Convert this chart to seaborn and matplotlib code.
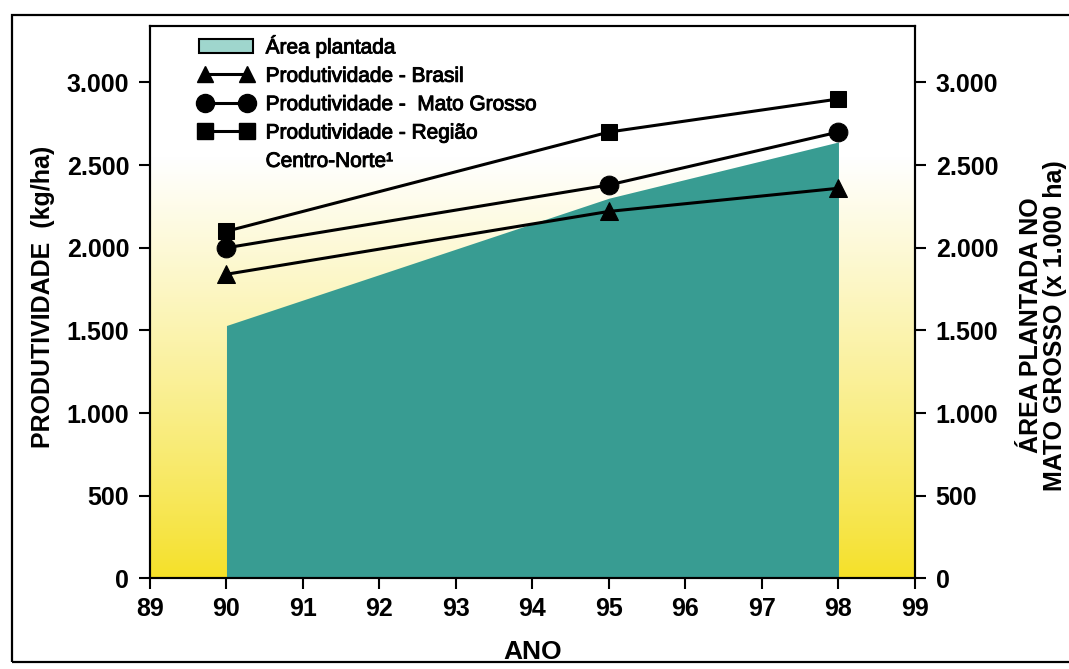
import numpy as np
import pandas as pd
import matplotlib
matplotlib.use("Agg")
import matplotlib.pyplot as plt
import seaborn as sns
from matplotlib.lines import Line2D
from matplotlib.patches import Patch, Rectangle
import matplotlib.patheffects as pe

# ---- data ----
years = [90, 95, 98]
area_plantada = [1530, 2300, 2640]
prod_brasil = [1840, 2220, 2360]
prod_mato_grosso = [2000, 2380, 2700]
prod_regiao = [2100, 2700, 2900]

x_ticks = [89, 90, 91, 92, 93, 94, 95, 96, 97, 98, 99]
y_ticks = [0, 500, 1000, 1500, 2000, 2500, 3000]
y_tick_labels = ["0", "500", "1.000", "1.500", "2.000", "2.500", "3.000"]

legend_labels = ["Área plantada", "Produtividade - Brasil",
                 "Produtividade -  Mato Grosso", "Produtividade - Região",
                 "Centro-Norte¹"]

sns.set_theme(style="white")
plt.rcParams["font.family"] = ["Liberation Sans", "DejaVu Sans"]
plt.rcParams["text.color"] = "black"
plt.rcParams["axes.labelcolor"] = "black"
plt.rcParams["xtick.color"] = "black"
plt.rcParams["ytick.color"] = "black"

fig = plt.figure(figsize=(10.69, 6.69), dpi=100)
fig.patch.set_facecolor("white")
ax = fig.add_axes([0.1403, 0.1353, 0.7156, 0.826])

XMIN, XMAX, YMAX = 89, 99, 3342
ax.set_xlim(XMIN, XMAX)
ax.set_ylim(0, YMAX)

# background gradient (yellow at bottom -> white at top)
n = 300
f = np.linspace(0, 1, n)
t = np.clip(f / 0.76, 0, 1) ** 0.85
yellow = np.array([245, 224, 38]) / 255.0
white = np.array([1.0, 1.0, 1.0])
grad = (yellow[None, :] * (1 - t[:, None]) + white[None, :] * t[:, None])[:, None, :]
ax.imshow(grad, extent=[XMIN, XMAX, 0, YMAX], origin="lower", aspect="auto",
          zorder=0, interpolation="bilinear")

teal = "#389c92"
ax.fill_between(years, 0, area_plantada, color=teal, linewidth=0, zorder=1)

df = pd.DataFrame({"ano": years * 3,
                   "valor": prod_brasil + prod_mato_grosso + prod_regiao,
                   "serie": ["Brasil"] * 3 + ["Mato Grosso"] * 3 + ["Regiao"] * 3})

styles = {"Brasil": ("^", 12.5), "Mato Grosso": ("o", 13.5), "Regiao": ("s", 11.5)}
for name, (mk, ms) in styles.items():
    sub = df[df["serie"] == name]
    sns.lineplot(data=sub, x="ano", y="valor", ax=ax, color="black",
                 marker=mk, markersize=ms, markeredgecolor="black",
                 linewidth=2.2, zorder=3, legend=False, clip_on=False)

ax.set_xlabel("")
ax.set_ylabel("")

ax.set_xticks(x_ticks)
ax.set_xticklabels([str(v) for v in x_ticks])
ax.set_yticks(y_ticks)
ax.set_yticklabels(y_tick_labels)
ax.tick_params(axis="both", which="both", direction="out", length=8, width=1.5,
               color="black", labelcolor="black", labelsize=18, pad=6)
ax.tick_params(axis="x", bottom=True, top=False, pad=5)
ax.tick_params(axis="y", left=True, right=False, pad=7)
for lab in ax.get_xticklabels() + ax.get_yticklabels():
    lab.set_fontweight("bold")

for sp in ax.spines.values():
    sp.set_visible(True)
    sp.set_color("black")
    sp.set_linewidth(1.5)

ax2 = ax.twinx()
ax2.set_ylim(0, YMAX)
ax2.set_yticks(y_ticks)
ax2.set_yticklabels(y_tick_labels)
ax2.tick_params(axis="y", right=True, direction="out", length=8, width=1.5,
                color="black", labelcolor="black", labelsize=18, pad=7)
for lab in ax2.get_yticklabels():
    lab.set_fontweight("bold")
for sp in ax2.spines.values():
    sp.set_linewidth(1.5)
    sp.set_color("black")
ax2.grid(False)
ax.grid(False)

ax.set_xlabel("ANO", fontsize=19, fontweight="bold", labelpad=14, color="black")

fig.text(0.040, 0.556, "PRODUTIVIDADE  (kg/ha)", rotation=90, ha="center",
         va="center", fontsize=18, fontweight="bold", color="black")
fig.text(0.9757, 0.514, "ÁREA PLANTADA NO\nMATO GROSSO (x 1.000 ha)", rotation=90,
         ha="center", va="center", fontsize=18, fontweight="bold",
         multialignment="center", linespacing=1.0, color="black")

# legend
handles = [
    Patch(facecolor="#9fd6cd", edgecolor="black", linewidth=1.5),
    Line2D([], [], color="black", marker="^", markersize=12, linewidth=2.2),
    Line2D([], [], color="black", marker="o", markersize=13, linewidth=2.2),
    Line2D([], [], color="black", marker="s", markersize=11.5, linewidth=2.2),
    Line2D([], [], color="none", marker=None, linewidth=0),
]
leg = ax.legend(handles, legend_labels, loc="upper left",
                bbox_to_anchor=((199 - 150) / 765, (578.5 - 36) / 552.5),
                frameon=False, fontsize=15, numpoints=2, borderpad=0,
                borderaxespad=0, handlelength=2.6, handletextpad=0.6,
                labelspacing=0.45, handleheight=0.7)
for txt in leg.get_texts():
    txt.set_color("black")
    txt.set_path_effects([pe.withStroke(linewidth=0.7, foreground="black")])

# outer frame
fig.patches.append(Rectangle((0.011, 0.010), 1.2, 0.968, transform=fig.transFigure,
                             fill=False, edgecolor="black", linewidth=1.6,
                             zorder=10))

fig.savefig("out.png", dpi=100)
